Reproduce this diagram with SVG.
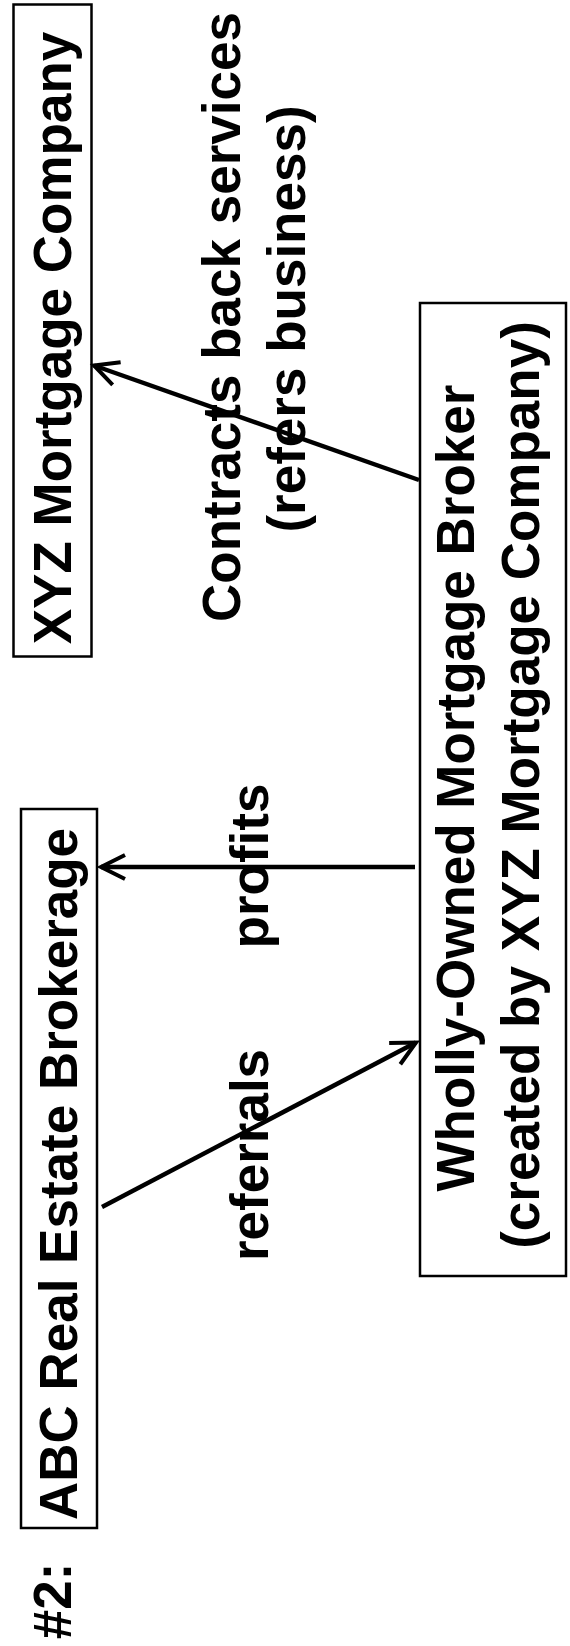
<svg xmlns="http://www.w3.org/2000/svg" width="570" height="1646" viewBox="0 0 570 1646">
<style>
.box{fill:none;stroke:#000;stroke-width:2.5}
.t{font-family:"Liberation Sans",Arial,sans-serif;font-weight:bold;font-size:53px;fill:#000;text-anchor:middle}
.c{fill:none;stroke:#000;stroke-width:4.5}
</style>
<defs>
<marker id="ah" markerUnits="userSpaceOnUse" viewBox="-30 -16 32 32" markerWidth="32" markerHeight="32" refX="0" refY="0" orient="auto" overflow="visible">
<path d="M-24,-12 L0,0 L-24,12" fill="none" stroke="#000" stroke-width="4" stroke-linejoin="miter"/>
</marker>
</defs>
<rect width="570" height="1646" fill="#fff"/>
<g id="label-num">
<text class="t" transform="translate(71,1601) rotate(-90)">#2:</text>
</g>
<g id="xyz">
<rect class="box" x="13.5" y="4.5" width="78" height="652"/>
<text class="t" transform="translate(71,338) rotate(-90)">XYZ Mortgage Company</text>
</g>
<g id="abc">
<rect class="box" x="21" y="809" width="76" height="719"/>
<text class="t" transform="translate(77,1174) rotate(-90)">ABC Real Estate Brokerage</text>
</g>
<g id="broker">
<rect class="box" x="420" y="303" width="146" height="973"/>
<text class="t" transform="translate(474,788) rotate(-90)">Wholly-Owned Mortgage Broker</text>
<text class="t" transform="translate(539,785) rotate(-90)">(created by XYZ Mortgage Company)</text>
</g>
<g id="connectors">
<line class="c" x1="419" y1="480" x2="94" y2="365.5" marker-end="url(#ah)"/>
<line class="c" x1="415" y1="867" x2="101" y2="867" marker-end="url(#ah)"/>
<line class="c" x1="102" y1="1207" x2="416" y2="1042.5" marker-end="url(#ah)"/>
</g>
<g id="edge-labels">
<text class="t" transform="translate(240,317) rotate(-90)">Contracts back services</text>
<text class="t" transform="translate(305,319) rotate(-90)">(refers business)</text>
<text class="t" transform="translate(268,866) rotate(-90)">profits</text>
<text class="t" transform="translate(268,1155) rotate(-90)">referrals</text>
</g>
</svg>
